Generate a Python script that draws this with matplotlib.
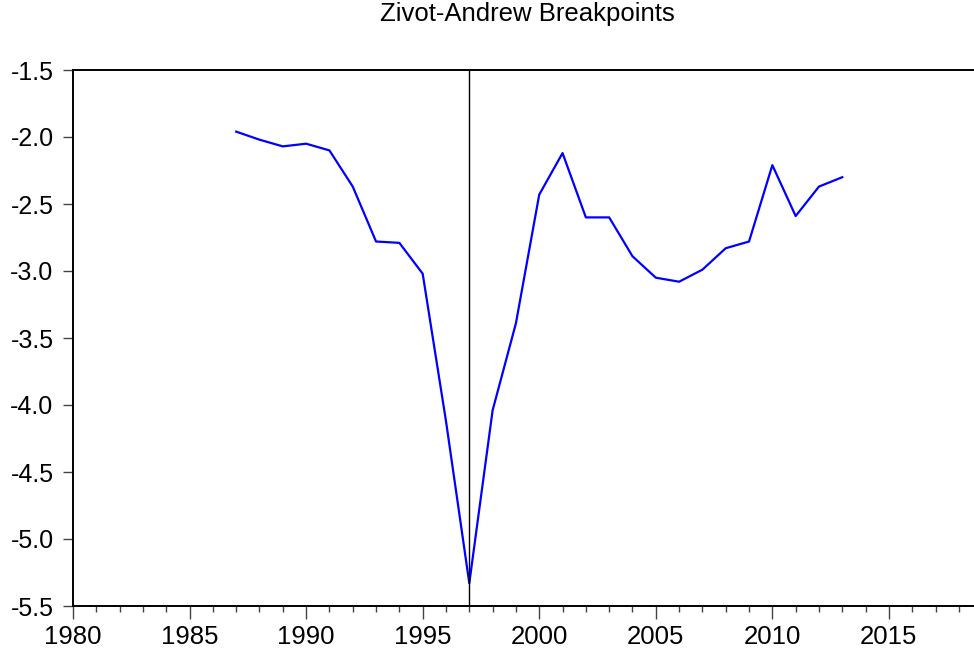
import numpy as np
import matplotlib
matplotlib.use("Agg")
import matplotlib.pyplot as plt
from matplotlib.ticker import MultipleLocator

plt.rcParams['font.family'] = ['Liberation Sans', 'DejaVu Sans']
plt.rcParams['axes.unicode_minus'] = False

years = list(range(1987, 2014))
tstat = [-1.96, -2.02, -2.07, -2.05, -2.10, -2.37, -2.78, -2.79, -3.02,
         -4.12, -5.33, -4.04, -3.39, -2.43, -2.12, -2.60, -2.60, -2.89,
         -3.05, -3.08, -2.99, -2.83, -2.78, -2.21, -2.59, -2.37, -2.30]
break_year = 1997

fig = plt.figure(figsize=(9.74, 6.57), dpi=100)
ax = fig.add_axes([73/974, 1-606/657, 1-73/974, (606-70)/657])

ax.plot(years, tstat, color='#0000ff', lw=1.6)
ax.axvline(break_year, color='black', lw=1.0)

ax.set_xlim(1980, 2018.65)
ax.set_ylim(-5.5, -1.5)
ax.xaxis.set_major_locator(MultipleLocator(5))
ax.xaxis.set_minor_locator(MultipleLocator(1))
ax.yaxis.set_major_locator(MultipleLocator(0.5))
ax.yaxis.set_major_formatter(matplotlib.ticker.FormatStrFormatter('%.1f'))

for s in ['top', 'left', 'bottom']:
    ax.spines[s].set_linewidth(1.4)
ax.spines['right'].set_visible(False)

ax.tick_params(axis='x', which='major', length=9.5, width=1.0, color='#444444',
               labelsize=18.5, pad=4)
ax.tick_params(axis='x', which='minor', length=4.5, width=1.0, color='#444444')
ax.tick_params(axis='y', which='major', length=7, width=1.0, color='#444444',
               labelsize=18, pad=7)

fig.text(527/974, 1-14/657, 'Zivot-Andrew Breakpoints', ha='center', va='center',
         fontsize=18.5)

fig.savefig('out.png', dpi=100)
